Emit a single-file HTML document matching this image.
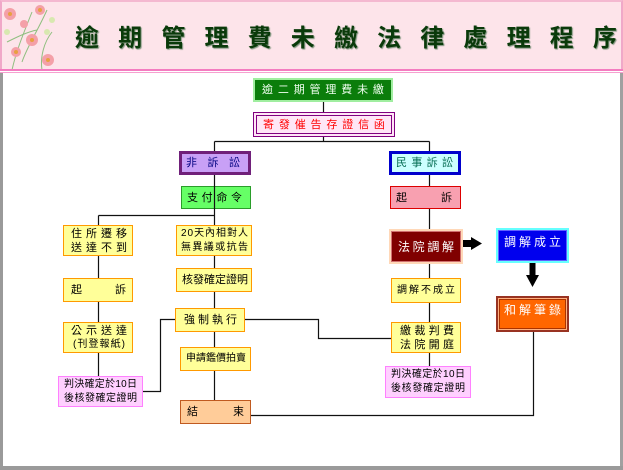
<!DOCTYPE html>
<html><head><meta charset="utf-8">
<style>
*{margin:0;padding:0;box-sizing:border-box}
html,body{width:623px;height:470px;overflow:hidden;background:#fff}
body{position:relative;font-family:"Liberation Sans","Noto Sans CJK TC",sans-serif}
#hdr{position:absolute;left:0;top:0;width:623px;height:70px;background:#fde4ea;border-top:2px solid #f4b8d0;border-left:2px solid #f0a8c8;border-right:2px solid #f0a8c8}
#l1{position:absolute;left:0;top:69px;width:623px;height:2px;background:#f47cc0}
#l2{position:absolute;left:0;top:72px;width:623px;height:1px;background:#f6a0d0}
#title{position:absolute;left:75px;top:25px;width:542px;height:28px;display:flex;justify-content:space-between;font-size:24px;font-weight:bold;color:#0a3a0a;text-shadow:1px 1px 1px #789078;line-height:28px}
#fl{position:absolute;left:2px;top:2px}
#fl2{position:absolute;left:0;top:73px;width:3px;height:397px;background:#9a9a9a}
#fr{position:absolute;left:620px;top:73px;width:3px;height:397px;background:#a0a0a0}
#fb{position:absolute;left:0;top:466px;width:623px;height:4px;background:#9a9a9a}
.b{position:absolute;display:flex;flex-direction:column;justify-content:center;font-size:11px;line-height:14px;color:#000}
.r{display:flex;justify-content:space-between}
.y{background:#ffff99;border:1.5px solid #ff9900}
svg{position:absolute;left:0;top:0}
</style></head><body>
<div id="hdr"></div>
<svg id="fl" width="60" height="68" viewBox="0 0 60 68">
<g stroke="#8fbf7f" stroke-width="1" fill="none">
<path d="M10 68 C14 50 20 35 30 10"/><path d="M20 60 C25 45 35 30 45 8"/><path d="M40 68 C38 55 42 40 50 30"/><path d="M5 40 C15 35 25 30 35 28"/>
</g>
<g fill="#f4a0a8"><circle cx="8" cy="12" r="6"/><circle cx="30" cy="38" r="6"/><circle cx="14" cy="50" r="5"/><circle cx="46" cy="58" r="6"/><circle cx="38" cy="8" r="5"/><circle cx="22" cy="22" r="4"/></g>
<g fill="#e8a040"><circle cx="8" cy="12" r="2"/><circle cx="30" cy="38" r="2"/><circle cx="14" cy="50" r="2"/><circle cx="46" cy="58" r="2"/><circle cx="38" cy="8" r="2"/></g>
<g fill="#d8e8b0"><circle cx="45" cy="30" r="3"/><circle cx="5" cy="30" r="3"/><circle cx="50" cy="18" r="3"/></g>
</svg>
<div id="title"><span>逾</span><span>期</span><span>管</span><span>理</span><span>費</span><span>未</span><span>繳</span><span>法</span><span>律</span><span>處</span><span>理</span><span>程</span><span>序</span></div>
<div id="l1"></div><div id="l2"></div>
<div id="fl2"></div><div id="fr"></div><div id="fb"></div>

<!-- boxes -->
<div class="b" style="left:253px;top:78px;width:140px;height:24px;background:#0b7d0b;border:2px solid #a0eea0;color:#f0fff0;padding:0 7px"><div class="r"><span>逾</span><span>二</span><span>期</span><span>管</span><span>理</span><span>費</span><span>未</span><span>繳</span></div></div>
<div class="b" style="left:253px;top:112px;width:142px;height:25px;background:#ffe6f6;border:4px double #800080;color:#ff0000;padding:0 6px"><div class="r"><span>寄</span><span>發</span><span>催</span><span>告</span><span>存</span><span>證</span><span>信</span><span>函</span></div></div>
<div class="b" style="left:179px;top:151px;width:72px;height:24px;background:#c8a0f6;border:3px solid #70207a;color:#000080;padding:0 8px 0 4px"><div class="r"><span>非</span><span>訴</span><span>訟</span></div></div>
<div class="b" style="left:389px;top:151px;width:72px;height:24px;background:#ccffff;border:3px solid #0000cc;color:#006a50;padding:0 5px 0 4px"><div class="r"><span>民</span><span>事</span><span>訴</span><span>訟</span></div></div>
<div class="b" style="left:181px;top:186px;width:70px;height:23px;background:#66ff66;border:1px solid #2a9d2a;padding:0 8px 0 5px"><div class="r"><span>支</span><span>付</span><span>命</span><span>令</span></div></div>
<div class="b" style="left:390px;top:186px;width:71px;height:23px;background:#f8a0b0;border:1px solid #dd0000;padding:0 8px 0 5px"><div class="r"><span>起</span><span>訴</span></div></div>

<div class="b y" style="left:63px;top:225px;width:70px;height:31px;padding:0 5px 0 7px"><div class="r"><span>住</span><span>所</span><span>遷</span><span>移</span></div><div class="r"><span>送</span><span>達</span><span>不</span><span>到</span></div></div>
<div class="b y" style="left:176px;top:225px;width:76px;height:31px;padding:0 3px 0 4px;font-size:10px"><div class="r"><span>2</span><span>0</span><span>天</span><span>內</span><span>相</span><span>對</span><span>人</span></div><div class="r"><span>無</span><span>異</span><span>議</span><span>或</span><span>抗</span><span>告</span></div></div>
<div class="b y" style="left:63px;top:278px;width:70px;height:24px;padding:0 6px 0 7px"><div class="r"><span>起</span><span>訴</span></div></div>
<div class="b y" style="left:176px;top:268px;width:76px;height:24px;padding:0 5px 0 5px"><div class="r"><span>核</span><span>發</span><span>確</span><span>定</span><span>證</span><span>明</span></div></div>
<div class="b y" style="left:175px;top:308px;width:70px;height:24px;padding:0 7px 0 8px"><div class="r"><span>強</span><span>制</span><span>執</span><span>行</span></div></div>
<div class="b y" style="left:63px;top:322px;width:70px;height:31px;padding:0 5px 0 7px"><div class="r"><span>公</span><span>示</span><span>送</span><span>達</span></div><div class="r" style="font-size:10px;padding:0 2px"><span>(</span><span>刊</span><span>登</span><span>報</span><span>紙</span><span>)</span></div></div>
<div class="b" style="left:58px;top:376px;width:85px;height:31px;background:#ffd0ff;border:1.5px solid #ff80ff;padding:0 5px 0 5px;font-size:10px"><div class="r"><span>判</span><span>決</span><span>確</span><span>定</span><span>於</span><span>1</span><span>0</span><span>日</span></div><div class="r"><span>後</span><span>核</span><span>發</span><span>確</span><span>定</span><span>證</span><span>明</span></div></div>
<div class="b y" style="left:180px;top:347px;width:71px;height:24px;padding:0 5px 0 5px;font-size:10px"><div class="r"><span>申</span><span>請</span><span>鑑</span><span>價</span><span>拍</span><span>賣</span></div></div>
<div class="b" style="left:180px;top:400px;width:71px;height:24px;background:#ffcc99;border:1.5px solid #c05a20;padding:0 6px 0 6px"><div class="r"><span>結</span><span>束</span></div></div>

<div style="position:absolute;left:389px;top:229px;width:74px;height:35px;background:#ffd8b8"></div>
<div class="b" style="left:391px;top:231px;width:70px;height:31px;background:#800000;border:1.5px solid #d07070;color:#fff;font-size:12px;padding:0 6px"><div class="r"><span>法</span><span>院</span><span>調</span><span>解</span></div></div>
<div class="b" style="left:496px;top:228px;width:73px;height:35px;background:#0000ee;border:2px solid #66ffff;box-shadow:inset 0 0 0 1px #6060ff;color:#fff;font-size:12px;padding:0 6px 8px"><div class="r"><span>調</span><span>解</span><span>成</span><span>立</span></div></div>
<div class="b" style="left:496px;top:296px;width:73px;height:36px;background:#ff6600;border:2px solid #993322;box-shadow:inset 0 0 0 1px #ffb080,inset 0 0 0 2px #aa3300;color:#fff;font-size:12px;padding:0 6px 8px"><div class="r"><span>和</span><span>解</span><span>筆</span><span>錄</span></div></div>
<div class="b y" style="left:391px;top:278px;width:70px;height:25px;padding:0 5px;font-size:10px"><div class="r"><span>調</span><span>解</span><span>不</span><span>成</span><span>立</span></div></div>
<div class="b y" style="left:391px;top:322px;width:70px;height:31px;padding:0 6px 0 8px"><div class="r"><span>繳</span><span>裁</span><span>判</span><span>費</span></div><div class="r"><span>法</span><span>院</span><span>開</span><span>庭</span></div></div>
<div class="b" style="left:385px;top:366px;width:86px;height:32px;background:#ffd0ff;border:1.5px solid #ff80ff;padding:0 5px 0 5px;font-size:10px"><div class="r"><span>判</span><span>決</span><span>確</span><span>定</span><span>於</span><span>1</span><span>0</span><span>日</span></div><div class="r"><span>後</span><span>核</span><span>發</span><span>確</span><span>定</span><span>證</span><span>明</span></div></div>

<svg width="623" height="470" viewBox="0 0 623 470">
<g stroke="#111" stroke-width="1.2" fill="none">
<path d="M323.5 102V112M323.5 137V141.5M214.5 141.5H429.5M214.5 141.5V151M429.5 141.5V151"/>
<path d="M214.5 175V225M98.5 215.5H214.5M98.5 215.5V225"/>
<path d="M98.5 256V278M98.5 302V322M98.5 353V376"/>
<path d="M214.5 256V268M214.5 292V308M214.5 332V347M214.5 371V400"/>
<path d="M175 319.5H160.5V391.5H143"/>
<path d="M245 319.5H318.5V338.5H391"/>
<path d="M251 415.5H533.5V332"/>
<path d="M429.5 175V186M429.5 209V229M429.5 264V278M429.5 303V322M429.5 353V366"/>
</g>
<path d="M463 240H471V237L482 243.5L471 250V247H463Z" fill="#000"/>
<path d="M529.5 263H535.5V275H539L532.5 287L526 275H529.5Z" fill="#000"/>
</svg>
</body></html>
